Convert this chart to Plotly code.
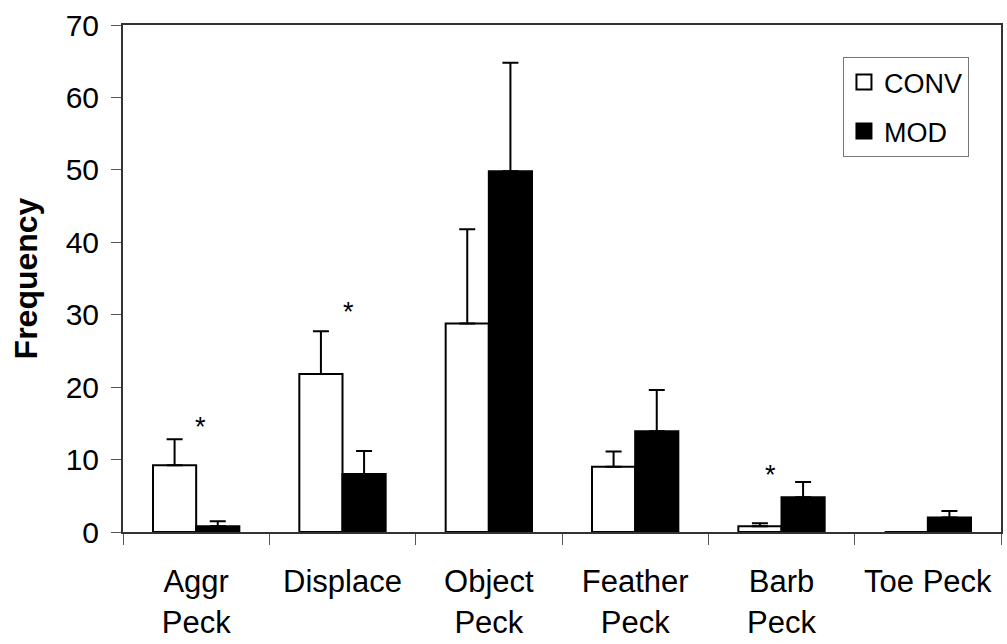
import plotly.graph_objects as go

categories = ["Aggr<br>Peck", "Displace", "Object<br>Peck", "Feather<br>Peck", "Barb<br>Peck", "Toe Peck"]
conv_values = [9.2, 21.8, 28.8, 9.0, 0.8, 0.0]
conv_err = [3.6, 5.9, 13.0, 2.1, 0.4, 0.0]
mod_values = [0.8, 8.0, 49.8, 13.9, 4.8, 2.0]
mod_err = [0.7, 3.2, 15.0, 5.7, 2.1, 0.9]
star_categories = ["Aggr<br>Peck", "Displace", "Barb<br>Peck"]
star_values = [14.5, 30.4, 7.9]
star_shifts = [4, 6, -11]
y_ticks = [0, 10, 20, 30, 40, 50, 60, 70]

FONT = "Liberation Sans, Arial, sans-serif"

fig = go.Figure()
fig.add_trace(go.Bar(
    name="CONV", x=categories, y=conv_values, showlegend=False,
    marker=dict(color="white", line=dict(color="black", width=2)),
    error_y=dict(type="data", symmetric=False, array=conv_err,
                 arrayminus=[0] * len(conv_err), color="black", thickness=2, width=8),
))
fig.add_trace(go.Bar(
    name="MOD", x=categories, y=mod_values, showlegend=False,
    marker=dict(color="black", line=dict(color="black", width=2)),
    error_y=dict(type="data", symmetric=False, array=mod_err,
                 arrayminus=[0] * len(mod_err), color="black", thickness=2, width=8),
))
# legend entries (square symbols)
fig.add_trace(go.Scatter(
    name="CONV", x=[None], y=[None], mode="markers", legendgroup="a",
    marker=dict(symbol="square", size=15, color="white", line=dict(color="black", width=2)),
))
fig.add_trace(go.Scatter(
    name="MOD", x=[None], y=[None], mode="markers", legendgroup="b",
    marker=dict(symbol="square", size=15, color="black", line=dict(color="black", width=2)),
))

for c, v, s in zip(star_categories, star_values, star_shifts):
    fig.add_annotation(x=c, y=v, text="*", showarrow=False, xshift=s,
                       font=dict(family=FONT, size=27, color="black"))

fig.update_layout(
    width=1007, height=644,
    margin=dict(l=123, r=4, t=25, b=112),
    paper_bgcolor="white", plot_bgcolor="white",
    barmode="group", bargap=0.41, bargroupgap=0,
    font=dict(family=FONT, color="black"),
    showlegend=True,
    legend=dict(x=0.82, y=0.937, xanchor="left", yanchor="top",
                bgcolor="white", bordercolor="#777777", borderwidth=1,
                font=dict(family=FONT, size=27, color="black"),
                itemwidth=30, tracegroupgap=11, itemsizing="trace"),
)
fig.update_xaxes(
    type="category", showline=True, linecolor="#333333", linewidth=2, mirror=True,
    ticks="outside", tickson="boundaries", ticklen=11, tickcolor="#555555", tickwidth=1,
    tickfont=dict(family=FONT, size=31, color="black"), ticklabelstandoff=21,
    showgrid=False,
)
fig.update_yaxes(
    range=[0, 70], tickvals=y_ticks, showline=True, linecolor="#333333", linewidth=2,
    mirror=True, ticks="outside", ticklen=10, tickcolor="#555555", tickwidth=1,
    tickfont=dict(family=FONT, size=30, color="black"), ticklabelstandoff=6,
    showgrid=False, zeroline=False,
    title=dict(text="<b>Frequency</b>", font=dict(family=FONT, size=32, color="black"), standoff=18),
)

fig.write_html("out.html")
